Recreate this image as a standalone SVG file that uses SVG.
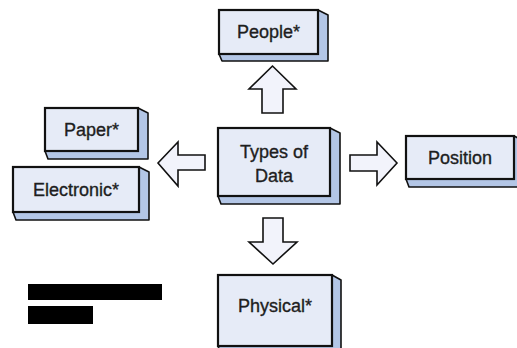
<svg xmlns="http://www.w3.org/2000/svg" width="517" height="348" viewBox="0 0 517 348">
  <style>
    .face { fill: #e6ebf7; stroke: #111; stroke-width: 2.2; }
    .side { fill: #b3c6e6; stroke: #111; stroke-width: 1.6; stroke-linejoin: round; }
    .lbl { font-family: "Liberation Sans", Arial, sans-serif; font-size: 18px; fill: #1e1e1e; stroke: #1e1e1e; stroke-width: 0.35; text-anchor: middle; }
    .arrow { fill: #f2f3fb; stroke: #111; stroke-width: 1.6; stroke-linejoin: miter; }
    .bar { fill: #000; }
  </style>
  <rect width="517" height="348" fill="#fff"/>

  <!-- block arrows pointing away from the central box -->
  <g id="connectors">
    <polygon class="arrow" points="272.5,66 249,89 262,89 262,113 283,113 283,89 296,89"/>
    <polygon class="arrow" points="273,264 249,242 263,242 263,218 283,218 283,242 297,242"/>
    <polygon class="arrow" points="158,163 178,142 178,155 205,155 205,170 178,170 178,186"/>
    <polygon class="arrow" points="397,163 377,142 377,155 350,155 350,171 377,171 377,185"/>
  </g>

  <g id="people">
    <path class="side" d="M318,10 L328,15 L328,61 L222,61 L219,54 Z"/>
    <rect class="face" x="219" y="10" width="99" height="44"/>
    <text class="lbl" x="268.5" y="38">People*</text>
  </g>

  <g id="paper">
    <path class="side" d="M138,108 L148,113 L148,159 L48,159 L45,151 Z"/>
    <rect class="face" x="45" y="108" width="93" height="43"/>
    <text class="lbl" x="91.5" y="136">Paper*</text>
  </g>

  <g id="electronic">
    <path class="side" d="M139,167 L149,172 L149,220 L16,220 L13,212 Z"/>
    <rect class="face" x="13" y="167" width="126" height="45"/>
    <text class="lbl" x="76" y="196">Electronic*</text>
  </g>

  <g id="types-of-data">
    <path class="side" d="M330,128 L340,133 L340,204 L221,204 L218,196 Z"/>
    <rect class="face" x="218" y="128" width="112" height="68"/>
    <text class="lbl" x="274" y="158">Types of</text>
    <text class="lbl" x="274" y="182">Data</text>
  </g>

  <g id="position">
    <path class="side" d="M514,136 L524,141 L524,187 L409,187 L406,179 Z"/>
    <rect class="face" x="406" y="136" width="108" height="43"/>
    <text class="lbl" x="460" y="164">Position</text>
  </g>

  <g id="physical">
    <path class="side" d="M332,275 L341,280 L341,354 L221,354 L218,346 Z"/>
    <rect class="face" x="218" y="275" width="114" height="71"/>
    <text class="lbl" x="275" y="312">Physical*</text>
  </g>

  <!-- redaction bars -->
  <rect class="bar" x="28" y="284" width="134" height="16"/>
  <rect class="bar" x="28" y="306" width="65" height="18"/>
</svg>
